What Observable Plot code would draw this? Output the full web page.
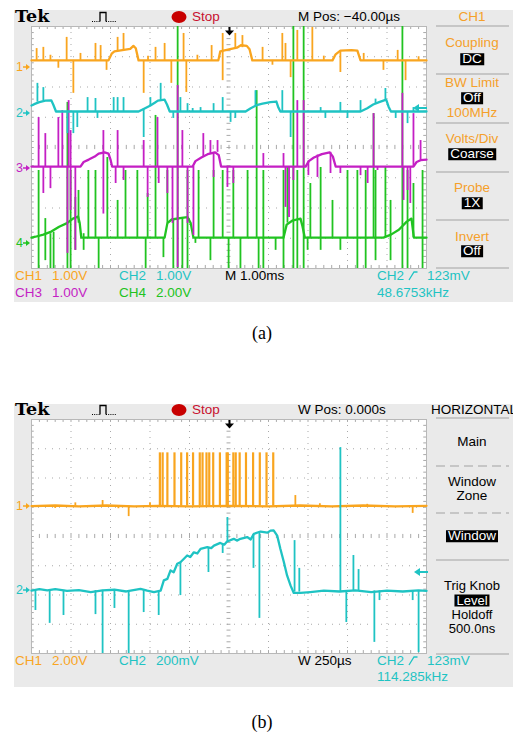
<!DOCTYPE html>
<html><head><meta charset="utf-8">
<script src="https://cdn.jsdelivr.net/npm/d3@7"></script>
<script src="https://cdn.jsdelivr.net/npm/@observablehq/plot@0.6"></script>
<style>
body{margin:0;background:#fff;}
#page{position:relative;width:513px;height:738px;overflow:hidden;font-family:"Liberation Sans",Arial,sans-serif;}
.panel{position:absolute;left:14px;width:499px;background:#eaeaea;}
.t{position:absolute;white-space:nowrap;font-size:13.5px;line-height:1;transform:translateY(-50%);}
.c{transform:translate(-50%,-50%);}
.inv{display:inline-block;background:#000;color:#fff;padding:0 2px;line-height:12px;}
.sep{position:absolute;height:2px;background:#c6c6c6;}
.dsep{position:absolute;height:2px;background:repeating-linear-gradient(90deg,#c6c6c6 0 9px,transparent 9px 14px);}
</style></head><body><div id="page"></div>
<script>
// ---------- colours ----------
const ORANGE = "#f9a51f", CYAN = "#1fc3c3", MAGENTA = "#c41fc4", GREEN = "#21c321";
const MENU_OR = "#f5a02a", RED = "#c8102e", GRID = "#a9a9a9";

// ---------- panel (a): 1.00 ms/div, values in screen divisions ----------
const aTimeDiv = [0, 10];
const aCh1 = [[0,2.88],[1.95,2.88],[2.03,3.1],[2.1,3.18],[2.3,3.22],[2.5,3.26],[2.58,3.36],[2.64,3.28],[2.71,2.88],[4.73,2.88],[4.78,3.18],[5.0,3.24],[5.2,3.3],[5.3,3.38],[5.45,3.36],[5.52,3.25],[5.59,2.88],[7.62,2.88],[7.7,3.08],[7.82,3.2],[8.1,3.22],[8.25,3.2],[8.33,2.88],[10,2.88]];
const aCh1Spikes = [[0.13,2.88,3.27],[0.30,2.88,3.31],[0.48,2.88,3.05],[0.68,2.88,2.62],[0.89,2.88,3.64],[1.06,2.88,1.79],[1.24,2.88,3.11],[1.62,2.88,3.44],[1.75,2.88,3.37],[1.90,2.88,2.55],[2.18,3.2,3.64],[2.33,3.22,3.77],[2.84,2.88,1.79],[2.95,2.88,3.02],[3.14,2.88,3.31],[3.37,2.88,3.44],[3.54,2.88,2.12],[3.85,2.88,3.77],[3.92,2.88,1.82],[4.2,2.88,3.05],[4.56,2.88,3.37],[4.84,2.21,3.77],[5.16,3.26,3.77],[5.34,3.3,3.70],[5.85,2.88,3.31],[6.1,2.88,2.72],[6.35,2.88,3.77],[6.43,2.88,3.44],[6.56,2.88,2.31],[6.73,2.88,3.87],[7.11,2.88,3.97],[7.4,2.88,3.02],[7.82,3.2,2.48],[8.41,2.88,3.11],[8.91,2.88,2.55],[9.27,2.88,3.21],[9.47,2.88,2.21],[9.8,2.88,3.0]];
const aCh2 = [[0,1.39],[0.1,1.45],[0.2,1.5],[0.35,1.55],[0.5,1.56],[0.55,1.42],[0.62,1.19],[2.71,1.19],[2.85,1.28],[3.0,1.38],[3.12,1.48],[3.2,1.55],[3.37,1.58],[3.43,1.42],[3.5,1.19],[5.42,1.19],[5.55,1.3],[5.7,1.4],[5.85,1.45],[6.05,1.5],[6.2,1.52],[6.25,1.32],[6.3,1.19],[8.33,1.19],[8.5,1.3],[8.65,1.42],[8.8,1.5],[8.98,1.58],[9.04,1.35],[9.1,1.19],[10,1.19]];
const aCh2Spikes = [[0.15,1.5,2.12],[0.30,1.55,1.98],[0.91,1.19,0.46],[1.06,1.19,0.46],[1.16,1.19,0.66],[1.42,1.19,1.65],[1.62,1.19,1.62],[1.67,1.19,0.96],[2.08,1.19,1.65],[2.18,1.19,1.65],[2.33,1.19,1.65],[2.84,1.28,0.33],[3.01,1.38,1.65],[3.27,1.56,2.12],[3.59,1.19,0.96],[3.77,1.19,1.65],[3.95,1.19,1.45],[4.08,1.19,1.29],[4.28,1.19,1.32],[4.61,1.19,1.45],[4.84,1.19,1.65],[5.04,1.19,0.83],[5.16,1.19,0.96],[5.67,1.38,1.88],[6.35,1.19,1.88],[6.56,1.19,0.33],[7.32,1.19,1.32],[7.44,1.19,0.96],[7.82,1.19,1.49],[8.0,1.19,0.96],[8.33,1.19,1.55],[8.71,1.45,1.6],[8.96,1.56,1.95],[9.22,1.19,0.96],[9.52,1.19,0.79],[9.67,1.19,1.32]];
const aCh3 = [[0,-0.63],[1.24,-0.63],[1.32,-0.48],[1.45,-0.4],[1.6,-0.3],[1.7,-0.2],[1.85,-0.16],[1.95,-0.2],[2.0,-0.4],[2.04,-0.63],[4.08,-0.63],[4.15,-0.45],[4.3,-0.33],[4.46,-0.22],[4.65,-0.16],[4.74,-0.25],[4.8,-0.63],[6.94,-0.63],[7.02,-0.45],[7.15,-0.33],[7.35,-0.22],[7.55,-0.16],[7.63,-0.3],[7.7,-0.63],[9.67,-0.63],[9.75,-0.48],[9.85,-0.42],[10,-0.4]];
const aCh3Spikes = [[0.18,-0.63,0.99],[0.35,-0.63,0.46],[0.68,-0.63,0.99],[0.78,-0.63,1.22],[0.94,-0.63,1.55],[0.99,-0.63,0.56],[1.82,-0.2,0.56],[2.18,-0.63,0.56],[2.84,-0.63,0.23],[3.19,-0.63,0.99],[3.70,-0.63,2.05],[3.82,-0.63,0.56],[4.35,-0.3,0.46],[4.53,-0.2,0.23],[4.71,-0.16,0.23],[5.87,-0.63,-0.2],[6.38,-0.63,-0.2],[6.73,-0.63,1.55],[6.89,-0.63,1.55],[8.66,-0.63,1.12],[9.39,-0.63,1.79],[9.67,-0.63,1.12],[9.85,-0.42,0.23],
  [0.30,-0.63,-1.52],[0.48,-0.63,-1.36],[0.91,-0.63,-3.5],[0.99,-0.63,-2.08],[1.11,-0.63,-3.4],[1.82,-0.2,-2.2],[2.13,-0.63,-1.19],[2.33,-0.63,-1.09],[2.94,-0.63,-1.65],[3.22,-0.63,-1.19],[3.44,-0.63,-1.52],[3.57,-0.63,-2.51],[3.70,-0.63,-3.97],[3.95,-0.63,-2.51],[4.10,-0.63,-2.91],[4.61,-0.16,-0.99],[4.96,-0.63,-1.32],[5.11,-0.63,-1.19],[6.43,-0.63,-1.98],[6.52,-0.63,-2.31],[6.63,-0.63,-1.09],[7.01,-0.45,-0.93],[7.24,-0.25,-0.99],[7.57,-0.16,-0.86],[7.82,-0.63,-0.86],[8.33,-0.63,-0.93],[8.51,-0.63,-1.19],[8.76,-0.63,-0.76],[9.42,-0.63,-1.75],[9.52,-0.63,-1.42],[9.59,-0.63,-1.85]];
const aCh4 = [[0,-2.98],[0.1,-2.95],[0.3,-2.88],[0.5,-2.78],[0.7,-2.62],[0.9,-2.5],[1.05,-2.35],[1.18,-2.28],[1.22,-2.5],[1.26,-2.98],[3.37,-2.98],[3.44,-2.5],[3.55,-2.38],[3.8,-2.33],[3.95,-2.3],[4.03,-2.5],[4.1,-2.98],[6.38,-2.98],[6.46,-2.55],[6.6,-2.42],[6.81,-2.35],[6.86,-2.6],[6.92,-2.98],[8.91,-2.98],[9.1,-2.88],[9.3,-2.72],[9.5,-2.45],[9.62,-2.35],[9.68,-2.98],[10,-2.98]];
const aCh4Spikes = [[0.18,-0.76,-4],[0.35,-2.35,-3.74],[0.48,-2.85,-4],[0.56,-2.8,-4],[0.91,1.49,-4],[0.99,-0.76,-4],[1.11,-1.65,-3.4],[1.19,-1.42,-2.5],[1.32,-2.85,-3.4],[1.44,-0.76,-2.98],[1.62,-0.76,-2.98],[1.70,-2.98,-4],[1.92,-0.33,-2.98],[2.18,-1.75,-2.98],[2.38,-0.76,-2.98],[2.68,-0.76,-2.98],[2.89,-2.98,-4],[2.94,-1.52,-2.98],[3.14,1.06,-2.98],[3.34,-2.98,-3.64],[3.44,-0.76,-2.5],[3.59,-2.38,-4],[3.70,4,-4],[3.82,-2.33,-4],[3.95,-0.76,-4],[4.15,-2.98,-3.17],[4.23,-0.76,-2.98],[4.53,-2.98,-3.74],[4.61,-0.76,-2.98],[4.84,-0.76,-2.98],[4.99,-2.98,-4],[5.11,-0.76,-2.98],[5.29,-2.98,-4],[5.47,-0.76,-2.98],[5.70,1.88,-2.98],[5.75,-2.98,-4],[5.87,-0.76,-4],[6.18,-2.98,-3.4],[6.38,-0.76,-4],[6.48,-0.66,-2.5],[6.63,4,-4],[6.73,-0.76,-4],[6.89,4,-4],[6.99,-2.98,-3.4],[7.06,-1.19,-2.98],[7.32,-0.66,-3.4],[7.62,-1.75,-2.98],[7.82,-2.98,-3.4],[8.0,-0.76,-2.98],[8.25,-0.76,-4],[8.46,-0.76,-4],[8.66,1.12,-2.98],[8.71,-0.76,-3.74],[8.96,-0.66,-2.98],[9.09,-1.75,-3.74],[9.39,4,-4],[9.52,-0.76,-4],[9.67,-1.19,-2.98],[9.90,-0.76,-4]];

// ---------- panel (b): 250 us/div window ----------
const bCh1 = [[0,1.04],[0.6,1.06],[1.2,1.03],[1.9,1.06],[2.6,1.03],[3.2,1.05],[4.0,1.03],[5.0,1.05],[6.0,1.03],[6.8,1.06],[7.6,1.03],[8.4,1.06],[9.2,1.03],[10,1.05]];
const bCh1Base = 1.04, bPulseTop = 2.86;
const bPulseX = [3.25,3.32,3.44,3.62,3.79,3.94,4.09,4.26,4.33,4.43,4.50,4.60,4.77,4.94,4.97,5.11,5.17,5.27,5.43,5.61,5.78,5.95,6.12];
const bCh1Spikes = [[0.6,1.04,0.96],[1.11,1.04,1.15],[1.80,1.04,1.23],[2.2,1.04,0.95],[2.46,1.04,0.68],[3.0,1.04,1.15],[6.68,1.04,1.40],[7.3,1.04,1.12],[8.5,1.04,1.1],[9.65,1.04,0.79]];
const bCh2 = [[0,-1.85],[0.2,-1.8],[0.4,-1.84],[0.6,-1.8],[0.9,-1.86],[1.2,-1.83],[1.5,-1.9],[1.8,-1.84],[2.1,-1.82],[2.4,-1.88],[2.76,-1.79],[2.93,-1.85],[3.10,-1.9],[3.27,-1.85],[3.35,-1.5],[3.44,-1.45],[3.52,-1.16],[3.60,-1.22],[3.69,-0.93],[3.77,-0.88],[3.86,-0.76],[3.94,-0.65],[4.02,-0.7],[4.11,-0.54],[4.2,-0.58],[4.28,-0.42],[4.45,-0.36],[4.55,-0.4],[4.62,-0.31],[4.78,-0.22],[4.88,-0.28],[4.95,-0.17],[5.12,-0.08],[5.2,-0.14],[5.29,-0.08],[5.46,-0.02],[5.55,-0.1],[5.63,0.09],[5.80,0.17],[5.97,0.13],[6.05,0.2],[6.13,0.21],[6.22,0.03],[6.30,-0.42],[6.39,-0.88],[6.47,-1.33],[6.56,-1.68],[6.64,-1.93],[6.81,-1.93],[7.06,-1.9],[7.4,-1.85],[7.8,-1.88],[8.2,-1.84],[8.6,-1.9],[9.0,-1.85],[9.4,-1.88],[9.8,-1.84],[10,-1.86]];
const bCh2Spikes = [[0.10,-1.85,-2.53],[0.46,-1.82,-2.97],[0.81,-1.84,-2.70],[1.62,-1.85,-2.67],[1.80,-1.84,-4.0],[2.10,-1.83,-2.46],[2.46,-1.86,-4.0],[2.84,-1.82,-2.60],[3.22,-1.86,-2.70],[3.77,-0.88,-2.02],[4.48,-0.38,-1.23],[4.84,-0.25,-0.58],[5.62,0.05,-1.09],[5.77,0.15,-2.80],[7.97,-1.86,-2.94],[8.68,-1.86,-3.62],[8.81,-1.86,-2.19],[9.65,-1.85,-2.19],[9.80,-1.85,-3.97],
  [4.96,-0.17,0.65],[6.66,-1.9,-0.14],[6.78,-1.9,-1.09],[7.82,-1.88,3.04],[8.15,-1.86,-0.65],[8.28,-1.86,-1.13]];

// ---------- helpers ----------
const page = document.getElementById("page");
function T(txt, x, y, o = {}) {
  const e = document.createElement("div");
  e.className = "t" + (o.c ? " c" : "");
  if (o.inv) { const s = document.createElement("span"); s.className = "inv"; s.textContent = txt; e.appendChild(s); }
  else e.textContent = txt;
  e.style.left = x + "px"; e.style.top = y + "px";
  e.style.color = o.color || "#000";
  if (o.size) e.style.fontSize = o.size + "px";
  if (o.font) e.style.fontFamily = o.font;
  if (o.bold) e.style.fontWeight = "bold";
  page.appendChild(e);
}
function S(x, y, w, h, inner) {
  const d = document.createElement("div");
  d.style.cssText = `position:absolute;left:${x}px;top:${y}px;width:${w}px;height:${h}px;line-height:0`;
  d.innerHTML = `<svg width="${w}" height="${h}" viewBox="0 0 ${w} ${h}">${inner}</svg>`;
  page.appendChild(d);
}
function box(cls, x, y, w, h) {
  const d = document.createElement("div");
  d.className = cls;
  d.style.left = x + "px"; d.style.top = y + "px"; d.style.width = w + "px";
  if (h) d.style.height = h + "px";
  page.appendChild(d);
}
const minorX = d3.range(0, 10.001, 0.2);
const minorY = d3.range(-4, 4.001, 0.2);
function gridMarks() {
  return [
    Plot.frame({fill: "white", stroke: null}),
    Plot.ruleX([1,2,3,4,6,7,8,9], {stroke: GRID, strokeDasharray: "1,5"}),
    Plot.ruleY([-3,-2,-1,1,2,3], {stroke: GRID, strokeDasharray: "1,6"}),
    Plot.ruleY(minorY, {y: d => d, x1: 4.95, x2: 5.05, stroke: GRID}),
    Plot.ruleX(minorX, {x: d => d, y1: -0.07, y2: 0.07, stroke: GRID}),
    Plot.ruleY(minorY, {y: d => d, x1: 0, x2: 0.07, stroke: GRID}),
    Plot.ruleY(minorY, {y: d => d, x1: 9.93, x2: 10, stroke: GRID}),
    Plot.ruleX(minorX, {x: d => d, y1: 3.9, y2: 4, stroke: GRID}),
    Plot.ruleX(minorX, {x: d => d, y1: -4, y2: -3.9, stroke: GRID}),
    Plot.frame({stroke: "#b8b8b8"})
  ];
}
const trace = (pts, color) => Plot.line(pts, {x: d => d[0], y: d => d[1], stroke: color, strokeWidth: 2.3});
const spikes = (arr, color) => Plot.ruleX(arr, {x: d => d[0], y1: d => d[1], y2: d => d[2], stroke: color, strokeWidth: 1.8});
function scope(top, height, mt, mb, marks) {
  const svg = Plot.plot({
    width: 499, height, marginTop: mt, marginBottom: mb, marginLeft: 17, marginRight: 87,
    x: {domain: aTimeDiv, axis: null}, y: {domain: [-4, 4], axis: null},
    style: {background: "transparent", overflow: "visible"},
    marks: [...gridMarks(), ...marks]
  });
  svg.style.position = "absolute"; svg.style.left = "14px"; svg.style.top = top + "px";
  page.appendChild(svg);
}
function header(y) {
  T("Tek", 15, y, {font: "'DejaVu Serif',serif", bold: true, size: 17.5});
  S(91, y - 6, 33, 12, `<path d="M1,10.5 H9" stroke="#000" stroke-dasharray="1,1.2"/><path d="M9,10.5 V1.5 H15 V10.5" fill="none" stroke="#000" stroke-width="1.3"/><path d="M15,10.5 H26" stroke="#000" stroke-dasharray="1,1.2"/>`);
  S(171, y - 6, 16, 12, `<ellipse cx="8" cy="6" rx="7.5" ry="6" fill="#c80000"/>`);
  T("Stop", 192, y, {color: RED});
}
function marker(n, y, color) {
  T(String(n), 16, y, {color, size: 12.5});
  S(23, y - 3, 8, 6, `<path d="M0,3 H3" stroke="${color}" stroke-width="1.5"/><path d="M3,0 L7,3 L3,6 Z" fill="${color}"/>`);
}
function trigDown(y) {
  S(224, y, 11, 9, `<path d="M5.5,0 V4" stroke="#000" stroke-width="2"/><path d="M1,3.5 H10 L5.5,8.5 Z" fill="#000"/>`);
}
function levelArrow(x, y) {
  S(x, y - 5, 14, 10, `<path d="M0,5 L6,1 L6,9 Z" fill="${CYAN}"/><path d="M5,5 H14" stroke="${CYAN}" stroke-width="2"/>`);
}
function edge(x, y, color) {
  S(x, y - 5, 10, 10, `<path d="M1,9 L6,1 H9.5" fill="none" stroke="${color}" stroke-width="1.3"/>`);
}

// ================= panel (a) =================
box("panel", 14, 10, 499, 292);
header(17);
T("M Pos: \u221240.00\u00b5s", 298, 17);
T("CH1", 472, 17, {c: true, color: MENU_OR});
scope(10, 292, 16, 34, [
  trace(aCh4, GREEN), spikes(aCh4Spikes, GREEN),
  trace(aCh3, MAGENTA), spikes(aCh3Spikes, MAGENTA),
  trace(aCh2, CYAN), spikes(aCh2Spikes, CYAN),
  trace(aCh1, ORANGE), spikes(aCh1Spikes, ORANGE)
]);
trigDown(27);
levelArrow(413, 108);
marker(1, 67, ORANGE); marker(2, 113, CYAN); marker(3, 168, MAGENTA); marker(4, 243, GREEN);
[26, 74, 123, 172, 220, 268].forEach(y => box("sep", 436, y - 1, 73));
T("Coupling", 472, 43, {c: true, color: MENU_OR});
T("DC", 472, 59, {c: true, inv: true});
T("BW Limit", 472, 83, {c: true, color: MENU_OR});
T("Off", 472, 98, {c: true, inv: true});
T("100MHz", 472, 113, {c: true, color: MENU_OR});
T("Volts/Div", 472, 139, {c: true, color: MENU_OR});
T("Coarse", 472, 154, {c: true, inv: true});
T("Probe", 472, 188, {c: true, color: MENU_OR});
T("1X", 472, 203, {c: true, inv: true});
T("Invert", 472, 237, {c: true, color: MENU_OR});
T("Off", 472, 251, {c: true, inv: true});
T("CH1", 15, 276, {color: ORANGE}); T("1.00V", 52, 276, {color: ORANGE});
T("CH2", 119, 276, {color: CYAN}); T("1.00V", 156, 276, {color: CYAN});
T("M 1.00ms", 225, 276);
T("CH2", 377, 276, {color: CYAN}); edge(408, 276, CYAN); T("123mV", 427, 276, {color: CYAN});
T("CH3", 15, 293, {color: MAGENTA}); T("1.00V", 52, 293, {color: MAGENTA});
T("CH4", 119, 293, {color: GREEN}); T("2.00V", 156, 293, {color: GREEN});
T("48.6753kHz", 377, 293, {color: CYAN});
T("(a)", 262, 333, {c: true, font: "'Liberation Serif',serif", size: 18});

// ================= panel (b) =================
box("panel", 14, 404, 499, 283);
header(410);
T("W Pos: 0.000s", 298, 410);
T("HORIZONTAL", 431, 410);
scope(404, 283, 15, 34, [
  trace(bCh1, ORANGE), spikes(bCh1Spikes, ORANGE),
  Plot.ruleX(bPulseX, {x: d => d, y1: bCh1Base, y2: bPulseTop, stroke: ORANGE, strokeWidth: 2.2}),
  trace(bCh2, CYAN), spikes(bCh2Spikes, CYAN)
]);
trigDown(420);
levelArrow(414, 572);
marker(1, 506, ORANGE); marker(2, 590, CYAN);
box("sep", 436, 417, 73); box("dsep", 436, 465, 73); box("dsep", 436, 512, 73);
box("sep", 436, 559, 73); box("sep", 436, 653, 73);
T("Main", 472, 442, {c: true});
T("Window", 472, 482, {c: true});
T("Zone", 472, 496, {c: true});
T("Window", 472, 536, {c: true, inv: true});
T("Trig Knob", 472, 585, {c: true, size: 13});
T("Level", 472, 600, {c: true, inv: true, size: 13});
T("Holdoff", 472, 614, {c: true, size: 13});
T("500.0ns", 472, 628, {c: true, size: 13});
T("CH1", 15, 661, {color: ORANGE}); T("2.00V", 52, 661, {color: ORANGE});
T("CH2", 119, 661, {color: CYAN}); T("200mV", 156, 661, {color: CYAN});
T("W 250\u00b5s", 298, 661);
T("CH2", 377, 661, {color: CYAN}); edge(408, 661, CYAN); T("123mV", 427, 661, {color: CYAN});
T("114.285kHz", 377, 677, {color: CYAN});
T("(b)", 262, 722, {c: true, font: "'Liberation Serif',serif", size: 18});
</script>
</body></html>
